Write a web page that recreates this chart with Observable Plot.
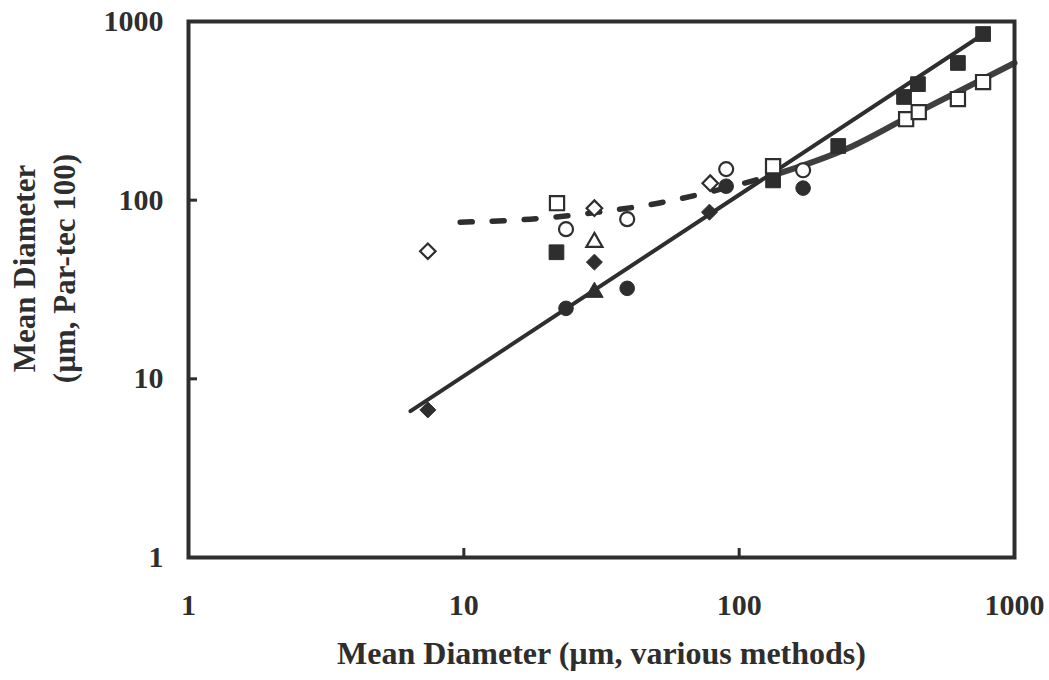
<!DOCTYPE html>
<html>
<head>
<meta charset="utf-8">
<script src="https://cdn.jsdelivr.net/npm/d3@7"></script>
<script src="https://cdn.jsdelivr.net/npm/@observablehq/plot@0.6"></script>
<style>
  html, body { margin: 0; padding: 0; background: #fff; }
</style>
</head>
<body>
<div id="chart"></div>
<script>
// ---- data ----
const tickValues = [1, 10, 100, 1000];
const innerTicks = [10, 100];

const openDiamondX = [7.4, 29.8, 78.5];
const openDiamondY = [51.8, 90.2, 124.5];
const filledDiamondX = [7.4, 29.8, 78];
const filledDiamondY = [6.7, 45, 85.7];
const openSquareX = [21.8, 132.8, 404, 449, 623, 769];
const openSquareY = [96.2, 155, 284, 311, 368, 458];
const filledSquareX = [21.7, 132.8, 229, 397, 446, 623, 769];
const filledSquareY = [51.1, 129, 201, 378, 446, 586, 851];
const openCircleX = [23.5, 39.2, 89.7, 170.7];
const openCircleY = [68.8, 78.3, 149.2, 147];
const filledCircleX = [23.5, 39.2, 89.7, 170.7];
const filledCircleY = [24.8, 32.1, 119.7, 116.8];
const openTriangleX = [29.8];
const openTriangleY = [58.2];
const filledTriangleX = [29.8];
const filledTriangleY = [30.5];

// straight fitted line
const fitX = [6.4, 782];
const fitY = [6.6, 862];
// curved fit: dashed part and solid part
const curveDashX = [9.7, 17.4, 30.8, 50.8, 83.2, 129.6];
const curveDashY = [75.3, 78.3, 85.7, 96.2, 113.8, 136.3];
const curveSolidX = [129.6, 253, 404, 1000];
const curveSolidY = [136.3, 198, 288, 586];

const xTitle = "Mean Diameter (µm, various methods)";
const yTitle = "Mean Diameter\n(µm, Par-tec 100)";

// ---- layout ----
const W = 1049, H = 680;
const mL = 188, mR = 35, mT = 21, mB = 123;
const innerW = W - mL - mR, innerH = H - mT - mB;
const tickLen = 9;

const zip = (xs, ys) => xs.map((x, i) => ({x, y: ys[i]}));
const ink = "#2e2e2e";
const font = "Liberation Serif";

const plot = Plot.plot({
  width: W,
  height: H,
  marginLeft: mL,
  marginRight: mR,
  marginTop: mT,
  marginBottom: mB,
  style: {fontFamily: font, fontWeight: "bold", color: ink, background: "#fff"},
  x: {type: "log", domain: [1, 1000], axis: null},
  y: {type: "log", domain: [1, 1000], axis: null},
  marks: [
    // tick labels
    Plot.text(tickValues, {x: d => d, text: d => String(d), frameAnchor: "bottom", lineAnchor: "middle", dy: 48, fontSize: 30, fill: ink}),
    Plot.text(tickValues, {y: d => d, text: d => String(d), frameAnchor: "left", textAnchor: "end", dx: -25, fontSize: 30, fill: ink}),
    // inward ticks
    Plot.tickX(innerTicks, {x: d => d, insetTop: innerH - tickLen, stroke: ink, strokeWidth: 3}),
    Plot.tickY(innerTicks, {y: d => d, insetRight: innerW - tickLen, stroke: ink, strokeWidth: 3}),
    // lines
    Plot.line(zip(fitX, fitY), {x: "x", y: "y", stroke: ink, strokeWidth: 4}),
    Plot.line(zip(curveDashX, curveDashY), {x: "x", y: "y", stroke: ink, strokeWidth: 5.5, strokeDasharray: "12,20", curve: "monotone-x"}),
    Plot.line(zip(curveSolidX, curveSolidY), {x: "x", y: "y", stroke: "#3f3f3f", strokeWidth: 6, curve: "monotone-x"}),
    // markers
    Plot.dot(zip(filledDiamondX, filledDiamondY), {x: "x", y: "y", symbol: "diamond2", r: 7.2, fill: ink, stroke: ink, strokeWidth: 1}),
    Plot.dot(zip(openDiamondX, openDiamondY), {x: "x", y: "y", symbol: "diamond2", r: 7, fill: "white", stroke: ink, strokeWidth: 2.2}),
    Plot.dot(zip(filledSquareX, filledSquareY), {x: "x", y: "y", symbol: "square", r: 8.3, fill: ink, stroke: ink, strokeWidth: 1}),
    Plot.dot(zip(openSquareX, openSquareY), {x: "x", y: "y", symbol: "square", r: 8, fill: "white", stroke: ink, strokeWidth: 2.2}),
    Plot.dot(zip(filledCircleX, filledCircleY), {x: "x", y: "y", symbol: "circle", r: 7.3, fill: ink, stroke: ink, strokeWidth: 1}),
    Plot.dot(zip(openCircleX, openCircleY), {x: "x", y: "y", symbol: "circle", r: 7, fill: "white", stroke: ink, strokeWidth: 2.2}),
    Plot.dot(zip(filledTriangleX, filledTriangleY), {x: "x", y: "y", symbol: "triangle", r: 6.5, fill: ink, stroke: ink, strokeWidth: 1}),
    Plot.dot(zip(openTriangleX, openTriangleY), {x: "x", y: "y", symbol: "triangle", r: 6, fill: "white", stroke: ink, strokeWidth: 2.2}),
    // frame
    Plot.frame({stroke: ink, strokeWidth: 4}),
    // titles
    Plot.text([xTitle], {frameAnchor: "bottom", dy: 106, fontSize: 32, fill: ink}),
    Plot.text([yTitle], {frameAnchor: "left", textAnchor: "middle", lineAnchor: "middle", rotate: -90, dx: -146, dy: -21, fontSize: 31, fill: ink, lineHeight: 1.29})
  ]
});
document.getElementById("chart").appendChild(plot);
</script>
</body>
</html>
